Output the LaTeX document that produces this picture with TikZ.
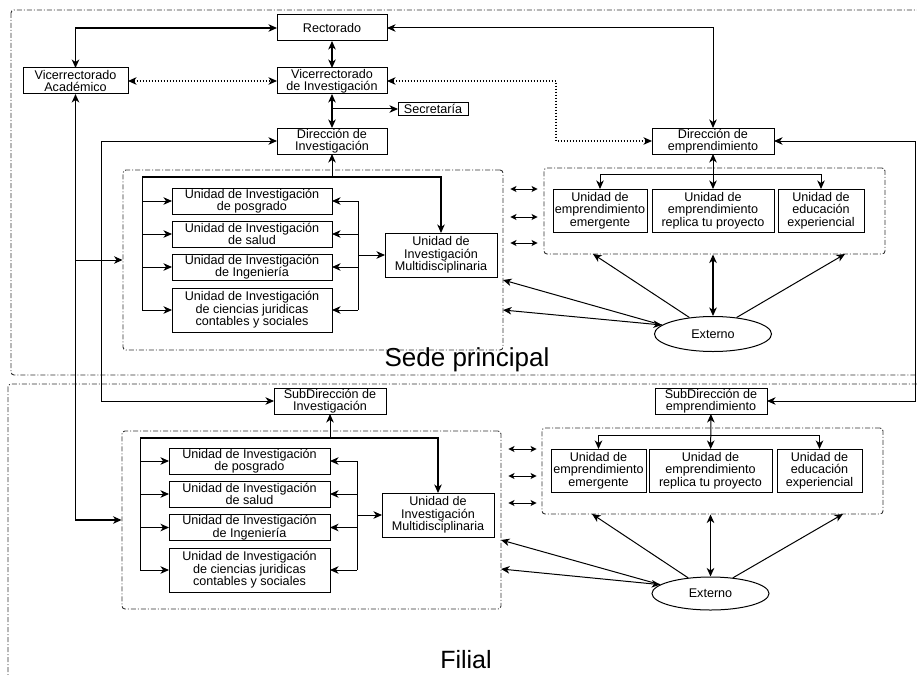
\documentclass[tikz,border=0pt]{standalone}
\usepackage{fontspec}
\setmainfont{Liberation Sans}
\usetikzlibrary{shapes.geometric,arrows.meta,positioning}

\begin{document}
\begin{tikzpicture}[x=1pt,y=-1pt,line width=1pt,>={Stealth[length=8.5pt,width=7.5pt,inset=2.5pt]}]
\tikzstyle{caja}=[rectangle,draw,inner sep=0pt,outer sep=0pt,align=center,
font=\fontsize{12.6}{12.4}\selectfont,minimum height=26pt]
\tikzstyle{marco}=[rectangle,draw=black!80,line width=0.9pt,rounded corners=3pt,
dash pattern=on 5pt off 2pt on 1pt off 2pt]
\tikzstyle{gruesa}=[line width=1.6pt]
\tikzstyle{punteada}=[line width=1.3pt,dash pattern=on 1.3pt off 1.7pt]
\tikzstyle{chica}=[line width=1pt,{Stealth[length=6pt,width=6pt,inset=1.5pt]}-{Stealth[length=6pt,width=6pt,inset=1.5pt]}]
\tikzstyle{externo}=[ellipse,draw,inner sep=0pt,minimum width=117pt,font=\fontsize{12.6}{12.4}\selectfont]

\useasboundingbox (0,0) rectangle (917,674);
\clip (0,0) rectangle (917,674);

\draw[marco] (11,10) rectangle (940,375);
\draw[marco] (8,384) rectangle (940,700);
\node[font=\fontsize{26}{26}\selectfont,anchor=base] (tsede) at (467,366) {Sede principal};
\node[font=\fontsize{25}{25}\selectfont,anchor=base] (tfilial) at (466,668) {Filial};

\node[caja,minimum width=110pt] (rect) at (332,28) {Rectorado};
\node[caja,minimum width=105pt] (vacad) at (75.5,81) {Vicerrectorado\\Académico};
\node[caja,minimum width=110pt,below of=rect,node distance=53pt] (vinv) {Vicerrectorado\\de Investigación};
\node[caja,minimum width=70pt,minimum height=13pt] (sec) at (433,109) {Secretaría};
\node[caja,minimum width=110pt,below of=vinv,node distance=60pt] (dinv) {Dirección de\\Investigación};
\node[caja,minimum width=122pt] (demp) at (713,141) {Dirección de\\emprendimiento};

\node[marco,minimum width=380pt,minimum height=180pt] (ginv) at (313,260) {};
\node[caja,minimum width=160pt] (u1) at (252,201) {Unidad de Investigación\\de posgrado};
\node[caja,minimum width=160pt,below of=u1,node distance=33pt] (u2) {Unidad de Investigación\\de salud};
\node[caja,minimum width=160pt,below of=u2,node distance=33pt] (u3) {Unidad de Investigación\\de Ingeniería};
\node[caja,minimum width=160pt,minimum height=44pt,below of=u3,node distance=43pt] (u4) {Unidad de Investigación\\de ciencias juridicas\\contables y sociales};
\node[caja,minimum width=112pt,minimum height=44pt] (multi) at (441,255) {Unidad de\\Investigación\\Multidisciplinaria};

\node[marco,minimum width=341pt,minimum height=86pt] (gemp) at (714.5,211) {};
\node[caja,minimum width=94pt,minimum height=43pt] (e1) at (600,210.5) {Unidad de\\emprendimiento\\emergente};
\node[caja,minimum width=122pt,minimum height=43pt] (e2) at (713,210.5) {Unidad de\\emprendimiento\\replica tu proyecto};
\node[caja,minimum width=86pt,minimum height=43pt] (e3) at (821,210.5) {Unidad de\\educación\\experiencial};
\node[externo,minimum height=35pt] (ext) at (713,334) {Externo};

\node[caja,minimum width=112pt] (sdinv) at (330,401) {SubDirección de\\Investigación};
\node[caja,minimum width=112pt] (sdemp) at (711,401) {SubDirección de\\emprendimiento};

\node[marco,minimum width=379pt,minimum height=178pt] (fginv) at (311.5,520) {};
\node[caja,minimum width=161pt] (fu1) at (249.5,461) {Unidad de Investigación\\de posgrado};
\node[caja,minimum width=161pt,below of=fu1,node distance=33pt] (fu2) {Unidad de Investigación\\de salud};
\node[caja,minimum width=161pt,below of=fu2,node distance=33.5pt] (fu3) {Unidad de Investigación\\de Ingeniería};
\node[caja,minimum width=161pt,minimum height=44pt,below of=fu3,node distance=42.5pt] (fu4) {Unidad de Investigación\\de ciencias juridicas\\contables y sociales};
\node[caja,minimum width=112pt,minimum height=44pt] (fmulti) at (438,515) {Unidad de\\Investigación\\Multidisciplinaria};

\node[marco,minimum width=341pt,minimum height=86pt] (fgemp) at (712.5,471) {};
\node[caja,minimum width=95pt,minimum height=43pt] (fe1) at (598.5,470.5) {Unidad de\\emprendimiento\\emergente};
\node[caja,minimum width=123pt,minimum height=43pt] (fe2) at (710.5,470.5) {Unidad de\\emprendimiento\\replica tu proyecto};
\node[caja,minimum width=85pt,minimum height=43pt] (fe3) at (819.5,470.5) {Unidad de\\educación\\experiencial};
\node[externo,minimum height=33pt] (fext) at (710.5,593.5) {Externo};

\coordinate (bi) at (142,177);
\coordinate (bd) at (358,255);
\coordinate (bemp) at (0,174);
\coordinate (ea1) at (593,254);
\coordinate (ea3) at (845,254);
\coordinate (ei1) at (503,280);
\coordinate (ei2) at (503,310);
\coordinate (k1) at (0,189);
\coordinate (k2) at (0,217);
\coordinate (k3) at (0,243);
\coordinate (fbi) at (140,438);
\coordinate (fbd) at (357,515);
\coordinate (fbemp) at (0,435);
\coordinate (fa1) at (592,514);
\coordinate (fa3) at (843,514);
\coordinate (fi1) at (501,540);
\coordinate (fi2) at (501,569);
\coordinate (fk1) at (0,449);
\coordinate (fk2) at (0,476);
\coordinate (fk3) at (0,503);

\draw[<->,gruesa] (vacad.north) |- (rect.west);
\draw[<->] (rect.east) -| (demp.north);
\path[<->,gruesa] (rect) edge (vinv);
\path[<->,punteada] (vacad) edge (vinv);
\draw[<->,punteada] (vinv.east) -- ++(169,0) |- (demp.west);
\path[<->,gruesa] (vinv) edge (dinv);
\draw[->] (vinv.south |- sec.west) -- (sec.west);
\draw[<->] (dinv.west) -- ++(-176,0) |- (sdinv.west);
\draw[<->] (demp.east) -- ++(141,0) |- (sdemp.east);
\draw[<->,line width=1.3pt] (vacad.south) |- (fginv.west);
\draw[->] (vacad.south |- ginv.west) -- (ginv.west);

\draw[->] (dinv.south |- bi) -- (dinv.south);
\draw[->,line width=1.3pt] (bi) -| (multi.north);
\draw[->] (bi) |- (u4.west);
\path[->] (bi |- u1.west) edge (u1.west);
\path[->] (bi |- u2.west) edge (u2.west);
\path[->] (bi |- u3.west) edge (u3.west);
\draw (bd |- u1.east) -- (bd |- u4.east);
\path[->] (bd |- u1.east) edge (u1.east);
\path[->] (bd |- u2.east) edge (u2.east);
\path[->] (bd |- u3.east) edge (u3.east);
\path[->] (bd |- u4.east) edge (u4.east);
\path[->] (bd) edge (multi.west);

\path[<->] (demp) edge (e2);
\draw[<->] (e1.north) -- (e1.north |- bemp) -| (e3.north);
\draw[->] (ext.145) -- (ea1);
\draw[<->,gruesa] (ext.north) -- (ext.north |- gemp.south);
\draw[->] (ext.35) -- (ea3);
\draw[->] (ext.170) -- (ei1);
\draw[<->] (ext.170) -- (ei2);
\draw[chica,shorten <=7pt,shorten >=6pt] (ginv.east |- k1) -- (gemp.west |- k1);
\draw[chica,shorten <=7pt,shorten >=6pt] (ginv.east |- k2) -- (gemp.west |- k2);
\draw[chica,shorten <=7pt,shorten >=6pt] (ginv.east |- k3) -- (gemp.west |- k3);

\draw[->] (sdinv.south |- fbi) -- (sdinv.south);
\draw[->,line width=1.3pt] (fbi) -| (fmulti.north);
\draw[->] (fbi) |- (fu4.west);
\path[->] (fbi |- fu1.west) edge (fu1.west);
\path[->] (fbi |- fu2.west) edge (fu2.west);
\path[->] (fbi |- fu3.west) edge (fu3.west);
\draw (fbd |- fu1.east) -- (fbd |- fu4.east);
\path[->] (fbd |- fu1.east) edge (fu1.east);
\path[->] (fbd |- fu2.east) edge (fu2.east);
\path[->] (fbd |- fu3.east) edge (fu3.east);
\path[->] (fbd |- fu4.east) edge (fu4.east);
\path[->] (fbd) edge (fmulti.west);

\path[<->] (sdemp) edge (fe2);
\draw[<->] (fe1.north) -- (fe1.north |- fbemp) -| (fe3.north);
\draw[->] (fext.145) -- (fa1);
\draw[<->,gruesa] (fext.north) -- (fext.north |- fgemp.south);
\draw[->] (fext.35) -- (fa3);
\draw[->] (fext.170) -- (fi1);
\draw[<->] (fext.170) -- (fi2);
\draw[chica,shorten <=7pt,shorten >=5pt] (fginv.east |- fk1) -- (fgemp.west |- fk1);
\draw[chica,shorten <=7pt,shorten >=5pt] (fginv.east |- fk2) -- (fgemp.west |- fk2);
\draw[chica,shorten <=7pt,shorten >=5pt] (fginv.east |- fk3) -- (fgemp.west |- fk3);

\end{tikzpicture}
\end{document}
